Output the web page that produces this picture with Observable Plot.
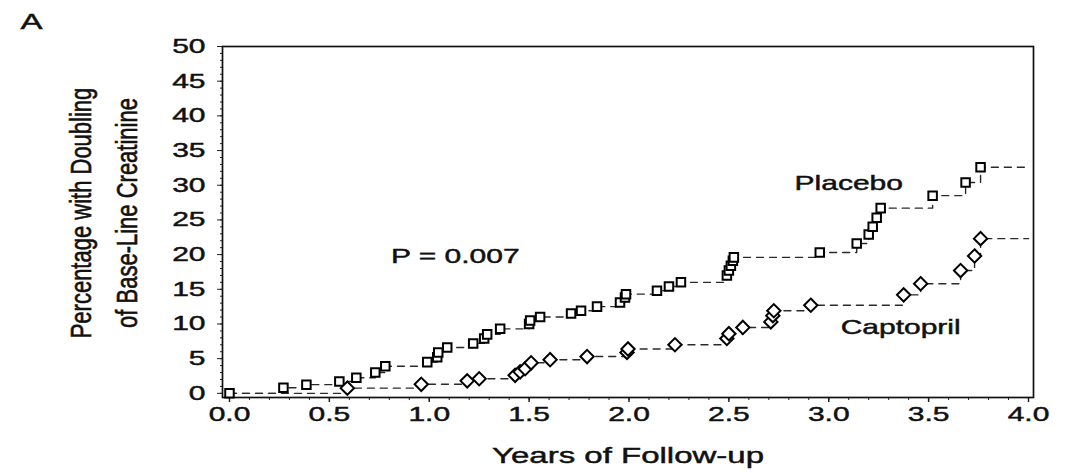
<!DOCTYPE html>
<html>
<head>
<meta charset="utf-8">
<script src="https://cdn.jsdelivr.net/npm/d3@7"></script>
<script src="https://cdn.jsdelivr.net/npm/@observablehq/plot@0.6"></script>
<style>
  html, body { margin: 0; padding: 0; background: #fff; }
  #chart svg { display: block; }
</style>
</head>
<body>
<div id="chart"></div>
<script>
// ---- Data ----
const placeboYears = [0, 0.27, 0.385, 0.55, 0.635, 0.73, 0.78, 0.99, 1.04, 1.045, 1.09, 1.22, 1.275, 1.29, 1.355, 1.50, 1.505, 1.555, 1.71, 1.76, 1.84, 1.955, 1.98, 1.985, 2.14, 2.20, 2.26, 2.49, 2.50, 2.51, 2.52, 2.525, 2.955, 3.14, 3.20, 3.22, 3.24, 3.26, 3.52, 3.685, 3.76];
const placeboPct   = [0, 0.8, 1.25, 1.7, 2.25, 3.0, 3.9, 4.5, 5.2, 5.9, 6.6, 7.2, 7.9, 8.5, 9.3, 10.0, 10.5, 11.0, 11.5, 11.9, 12.5, 13.1, 13.8, 14.3, 14.8, 15.4, 16.0, 17.0, 17.7, 18.4, 19.1, 19.6, 20.3, 21.6, 22.9, 24.0, 25.3, 26.7, 28.5, 30.4, 32.6];

const captoprilYears = [0.59, 0.96, 1.19, 1.25, 1.43, 1.455, 1.48, 1.51, 1.605, 1.79, 1.99, 1.995, 2.23, 2.49, 2.50, 2.57, 2.71, 2.72, 2.725, 2.91, 3.375, 3.46, 3.66, 3.73, 3.76];
const captoprilPct   = [0.75, 1.3, 1.8, 2.1, 2.6, 3.1, 3.55, 4.4, 4.85, 5.3, 5.9, 6.4, 7.0, 7.9, 8.6, 9.5, 10.3, 11.2, 11.9, 12.7, 14.2, 15.8, 17.7, 19.8, 22.3];

const followUpStart = 0;
const followUpEnd = 4.0;

const xTicks = [0, 0.5, 1.0, 1.5, 2.0, 2.5, 3.0, 3.5, 4.0];
const xMinorTicks = d3.range(0, 41).map(i => i / 10);
const yTicks = [0, 5, 10, 15, 20, 25, 30, 35, 40, 45, 50];
const yMinorTicks = d3.range(0, 51);

const groupLabels = ["Placebo", "Captopril", "P = 0.007"];
const groupLabelYears = [3.10, 3.36, 1.13];
const groupLabelPct = [30.2, 9.5, 19.7];

const yTitle = "Percentage with Doubling\nof Base-Line Creatinine";
const xTitle = "Years of Follow-up";
const panelLetter = "A";

// ---- Build tables ----
const placebo = placeboYears.map((t, i) => ({year: t, pct: placeboPct[i]}));
const captopril = captoprilYears.map((t, i) => ({year: t, pct: captoprilPct[i]}));
const placeboLine = [...placebo, {year: followUpEnd, pct: placeboPct[placeboPct.length - 1]}];
const captoprilLine = [{year: followUpStart, pct: 0}, ...captopril, {year: followUpEnd, pct: captoprilPct[captoprilPct.length - 1]}];
const labels = groupLabels.map((t, i) => ({text: t, year: groupLabelYears[i], pct: groupLabelPct[i]}));

const font = "'Liberation Sans', Arial, Helvetica, sans-serif";

const chart = Plot.plot({
  width: 1065,
  height: 473,
  marginLeft: 222,
  marginRight: 32,
  marginTop: 46,
  marginBottom: 76,
  x: {domain: [-0.035, 4.025]},
  y: {domain: [-0.6, 50]},
  style: {fontFamily: font, fontSize: "20px", color: "#111", background: "#fff"},
  marks: [
    Plot.axisX({ticks: xMinorTicks, tickSize: 3, tickFormat: () => "", label: null, stroke: "#222"}),
    Plot.axisX({ticks: xTicks, tickSize: 5, tickPadding: 4, tickFormat: d3.format(".1f"), label: null, fontSize: 20, stroke: "#222", strokeWidth: 1.5}),
    Plot.axisY({ticks: yMinorTicks, tickSize: 2, tickFormat: () => "", label: null, stroke: "#222"}),
    Plot.axisY({ticks: yTicks, tickSize: 5, tickPadding: 12, label: null, fontSize: 20, stroke: "#222"}),
    Plot.frame({stroke: "#111", strokeWidth: 1.7}),
    Plot.line(placeboLine, {x: "year", y: "pct", curve: "step-after", stroke: "#2a2a2a", strokeWidth: 1.4, strokeDasharray: "7,6"}),
    Plot.line(captoprilLine, {x: "year", y: "pct", curve: "step-after", stroke: "#2a2a2a", strokeWidth: 1.4, strokeDasharray: "7,6"}),
    Plot.dot(placebo, {x: "year", y: "pct", symbol: "square", r: 4.8, stroke: "#000", fill: "#fff", strokeWidth: 2}),
    Plot.dot(captopril, {x: "year", y: "pct", symbol: "diamond2", r: 6, stroke: "#000", fill: "#fff", strokeWidth: 2}),
    Plot.text(labels, {x: "year", y: "pct", text: "text", fontSize: 20, fill: "#111", textAnchor: "middle", lineAnchor: "middle"}),
    Plot.text([yTitle], {frameAnchor: "left", rotate: -90, dx: -123, dy: -9, fontSize: 22, lineHeight: 1.55, textAnchor: "middle", lineAnchor: "middle", fill: "#111"}),
    Plot.text([xTitle], {frameAnchor: "bottom", dy: 58, fontSize: 22, textAnchor: "middle", lineAnchor: "middle", fill: "#111"}),
    Plot.text([panelLetter], {frameAnchor: "top-left", dx: -191, dy: -25, fontSize: 22, textAnchor: "middle", lineAnchor: "middle", fill: "#111"})
  ]
});

// The reference image is horizontally stretched: widen horizontal text, thicken rotated text.
chart.querySelectorAll("text").forEach(t => {
  let tr = t.getAttribute("transform");
  if (!tr) {
    const x = t.getAttribute("x") || 0, y = t.getAttribute("y") || 0;
    tr = `translate(${x},${y})`;
    t.removeAttribute("x"); t.removeAttribute("y");
  }
  if (tr.includes("rotate")) t.setAttribute("transform", tr + " scale(1,1.35)");
  else t.setAttribute("transform", tr + " scale(1.5,1)");
  t.style.stroke = "#111";
  t.style.strokeWidth = "0.45px";
  t.style.paintOrder = "normal";
});

document.getElementById("chart").append(chart);
</script>
</body>
</html>
